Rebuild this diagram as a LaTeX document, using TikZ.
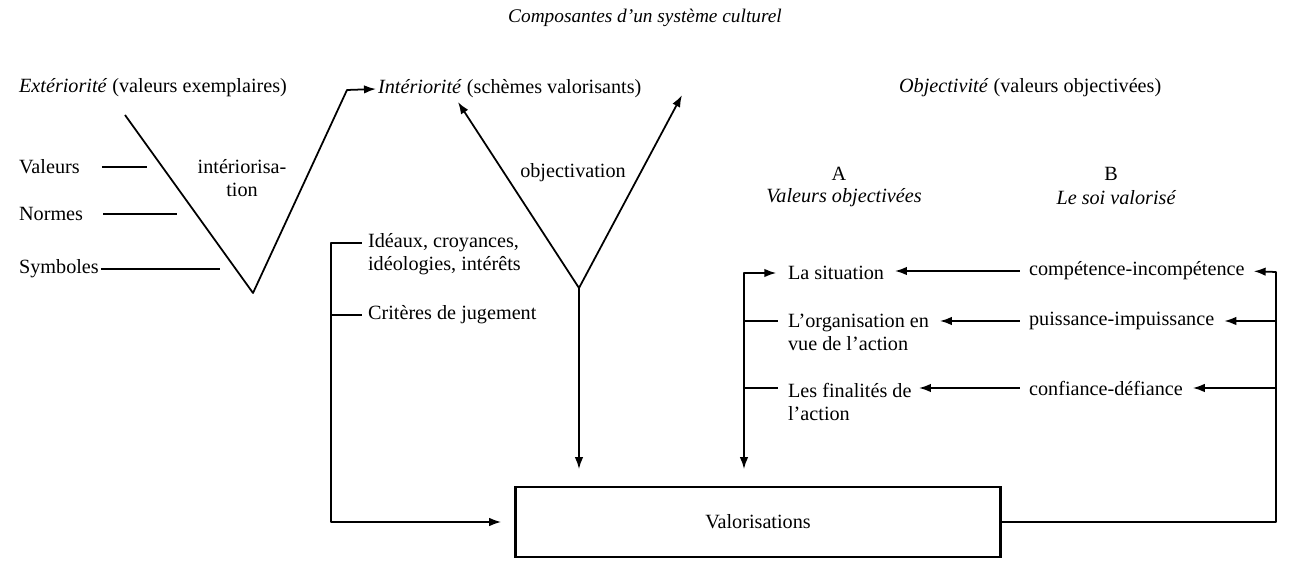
\documentclass[tikz,border=0pt]{standalone}
\usepackage{fontspec}
\setmainfont{Liberation Serif}
\usetikzlibrary{arrows.meta,positioning}
\tikzset{
  txt/.style={inner sep=1pt, font=\fontsize{11.5}{13}\selectfont},
  twoline/.style={txt, align=left, anchor=west},
  ln/.style={line width=1pt, line join=round},
  arr/.style={ln, -{Latex[length=2.4mm,width=1.7mm]}},
}
\begin{document}
\begin{tikzpicture}[x=0.02cm,y=-0.02cm]
\useasboundingbox (0,0) rectangle (1289,573);
% titres
\node[txt, font=\fontsize{11}{13}\selectfont\itshape] (title) at (645,18) {Composantes d'un système culturel};
\node[txt, anchor=west] (ext) at (17,88) {\textit{Extériorité} (valeurs exemplaires)};
\node[txt, anchor=west] (int) at (376,89) {\textit{Intériorité} (schèmes valorisants)};
\node[txt, anchor=west] (obj) at (897,88) {\textit{Objectivité} (valeurs objectivées)};
% exteriorite
\node[txt, anchor=west] (val) at (17,167) {Valeurs};
\node[txt, anchor=west] (nor) at (17,214) {Normes};
\node[txt, anchor=west] (sym) at (17,269) {Symboles};
\draw[ln] (val.east) ++(20,0) -- (147,167);
\draw[ln] (nor.east) ++(18,0) -- (177,214);
\draw[ln] (sym.east) -- (220,269);
\node[txt, align=center] (intlab) at (242,178) {intériorisa-\\tion};
\coordinate (vtop) at (125,115);
\coordinate (vbot) at (253,293);
\coordinate (vrt) at (347,90);
\draw[arr] (vtop) -- (vbot) -- (vrt) -- (int.west);
% interiorite
\node[txt] (objlab) at (573,173) {objectivation};
\coordinate (yj) at (579,288);
\coordinate (yl) at (458,102);
\coordinate (yr) at (682,95);
\draw[arr] (yj) -- (yl);
\draw[arr] (yj) -- (yr);
\node[txt, draw, line width=1.3pt, minimum width=9.7cm, minimum height=1.4cm] (valo) at (758,522) {Valorisations};
\draw[arr, shorten >=9.5pt] (yj) -- (yj |- valo.north);
\node[twoline] (ide) at (366,254) {Idéaux, croyances,\\idéologies, intérêts};
\node[txt, anchor=west] (crit) at (366,315) {Critères de jugement};
\coordinate (brtop) at (331,243);
\draw[arr, shorten >=7.5pt] ([xshift=-2.5pt]ide.west |- brtop) -- (brtop) -- (brtop |- valo.west) -- (valo.west);
\draw[ln] (brtop |- crit.west) -- ([xshift=-2.5pt]crit.west);
% objectivite
\node[txt] (colA) at (839,174) {A};
\node[txt, font=\fontsize{11.5}{13}\selectfont\itshape] (colAt) at (844,198) {Valeurs objectivées};
\node[txt] (colB) at (1111,174) {B};
\node[txt, font=\fontsize{11.5}{13}\selectfont\itshape] (colBt) at (1116,198) {Le soi valorisé};
\node[txt, anchor=west] (sit) at (786,273) {La situation};
\node[twoline] (org) at (786,332) {L'organisation en\\vue de l'action};
\node[twoline] (fin) at (786,402) {Les finalités de\\l'action};
\node[txt, anchor=west] (comp) at (1027,271) {compétence-incompétence};
\node[txt, anchor=west] (puis) at (1027,321) {puissance-impuissance};
\node[txt, anchor=west] (conf) at (1027,388) {confiance-défiance};
\draw[arr, shorten <=4pt, shorten >=5pt] (comp.west) -- (comp.west -| sit.east);
\draw[arr, shorten <=4pt, shorten >=5pt] (puis.west) -- (puis.west -| org.east);
\draw[arr, shorten <=4pt, shorten >=3pt] (conf.west) -- (conf.west -| fin.east);
% boucle gauche
\coordinate (lt) at (744,273);
\draw[ln, {Latex[length=2.4mm,width=1.7mm]}-{Latex[length=2.4mm,width=1.7mm]}, shorten <=5.5pt, shorten >=9.5pt]
  (sit.west |- lt) -- (lt) -- (lt |- valo.north);
\draw[ln] (lt |- puis.west) -- ([xshift=-4.5pt]org.west |- puis.west);
\draw[ln] (lt |- conf.west) -- ([xshift=-4.5pt]fin.west |- conf.west);
% boucle droite
\coordinate (rt) at (1276,272);
\draw[arr, shorten >=4pt] (valo.east) -- (valo.east -| rt) -- (rt) -- (comp.east);
\draw[arr, shorten >=4.5pt] (rt |- puis.east) -- (puis.east);
\draw[arr, shorten >=4.5pt] (rt |- conf.east) -- (conf.east);
\end{tikzpicture}
\end{document}
